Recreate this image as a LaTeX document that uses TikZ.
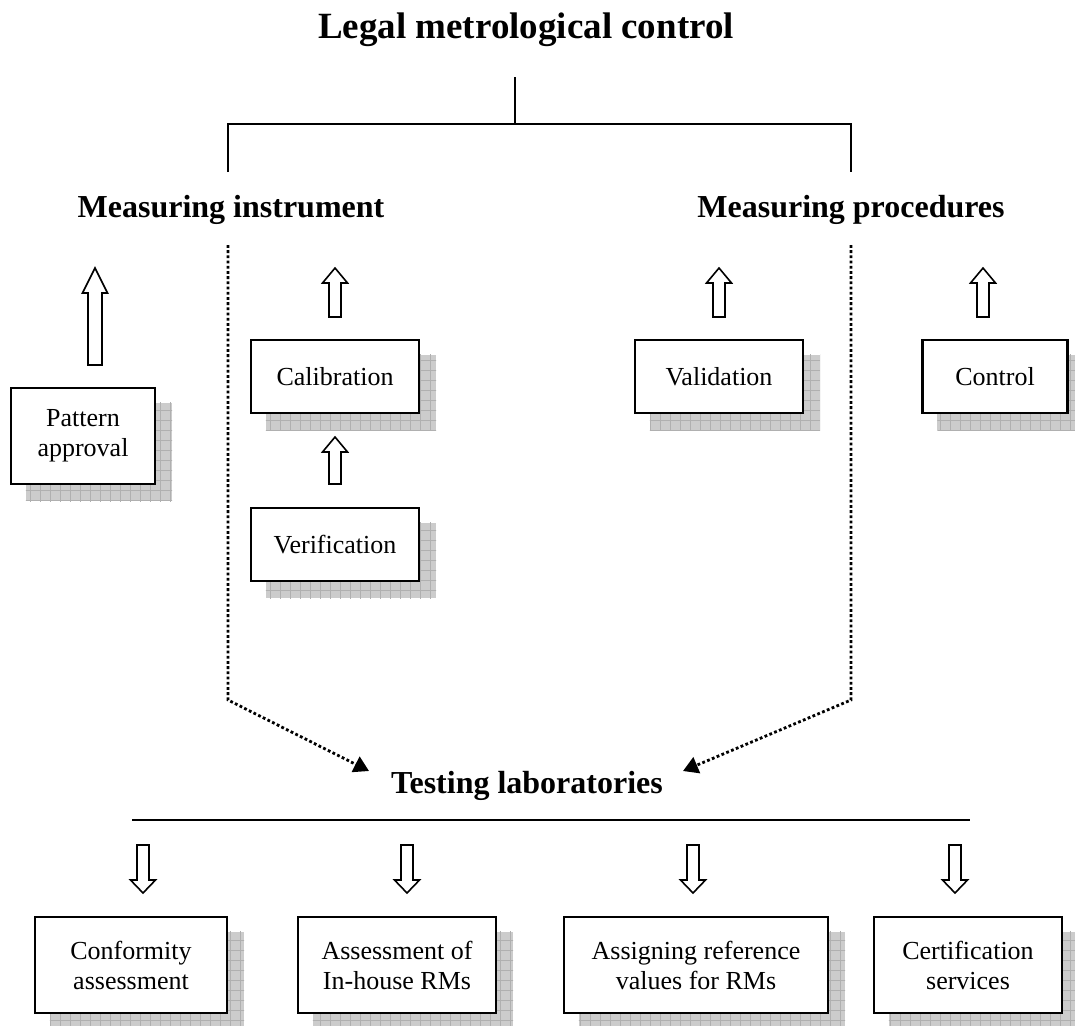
\documentclass[tikz,border=0pt]{standalone}
\usepackage{fontspec}
\setmainfont{Liberation Serif}
\usetikzlibrary{arrows.meta,backgrounds}
\newcommand\shadowof[1]{%
  \begin{scope}[on background layer]
    \fill[gray!40] ([shift={(16,16)}]#1.north west) rectangle ([shift={(16,16)}]#1.south east);
    \begin{scope}
      \clip ([shift={(16,16)}]#1.north west) rectangle ([shift={(16,16)}]#1.south east);
      \draw[gray!62, line width=0.7pt, step=10pt] (-10,-10) grid (1100,1100);
    \end{scope}
  \end{scope}}
% block arrow: x, tip y, head base y, tail y, half shaft, half head
\newcommand\blockarrow[6]{%
  \draw[blockline] (#1-#5,#4) -- (#1-#5,#3) -- (#1-#6,#3) -- (#1,#2) -- (#1+#6,#3) -- (#1+#5,#3) -- (#1+#5,#4) -- cycle;}
\begin{document}
\begin{tikzpicture}[x=1pt,y=-1pt,
  boxstyle/.style={draw=black,line width=2.2pt,fill=white,align=center,inner sep=0pt,
    font=\fontsize{26}{30}\selectfont},
  headstyle/.style={anchor=base,font=\fontsize{32}{36}\selectfont\bfseries,inner sep=0pt},
  blockline/.style={draw=black,line width=1.6pt,fill=white,line join=miter},
  bracket/.style={line width=2.2pt},
  dotline/.style={line width=2.8pt,dash pattern=on 2.8pt off 2.4pt,-{Triangle[length=15pt,width=17pt]}}]
\useasboundingbox (0,0) rectangle (1075,1025);

% titles
\node[headstyle,font=\fontsize{37}{40}\selectfont\bfseries] (title) at (526,38) {Legal metrological control};
\node[headstyle] (mi) at (231,217) {Measuring instrument};
\node[headstyle] (mp) at (851,217) {Measuring procedures};
\node[headstyle] (tl) at (527,793) {Testing laboratories};

% bracket
\coordinate (b0) at (515,77);
\coordinate (bc) at (515,124);
\coordinate (bl) at (228,124);
\coordinate (br) at (851,124);
\coordinate (bld) at (228,172);
\coordinate (brd) at (851,172);
\draw[bracket] (b0) -- (bc);
\draw[bracket] (bld) -- (bl) -- (br) -- (brd);

% boxes
\node[boxstyle,minimum width=144pt,minimum height=96pt] (pa) at (83,436) {Pattern\\approval};
\node[boxstyle,minimum width=168pt,minimum height=73pt] (cal) at (335,376.5) {Calibration};
\node[boxstyle,minimum width=168pt,minimum height=73pt] (ver) at (335,544.5) {Verification};
\node[boxstyle,minimum width=168pt,minimum height=73pt] (val) at (719,376.5) {Validation};
\node[boxstyle,minimum width=145pt,minimum height=73pt] (ctl) at (995,376.5) {Control};

\node[boxstyle,minimum width=192pt,minimum height=96pt] (conf) at (131,965) {Conformity\\assessment};
\node[boxstyle,minimum width=198pt,minimum height=96pt] (ass) at (397,965) {Assessment of\\In-house RMs};
\node[boxstyle,minimum width=264pt,minimum height=96pt] (asg) at (696,965) {Assigning reference\\values for RMs};
\node[boxstyle,minimum width=188pt,minimum height=96pt] (cert) at (968,965) {Certification\\services};

\shadowof{pa}\shadowof{cal}\shadowof{ver}\shadowof{val}\shadowof{ctl}
\shadowof{conf}\shadowof{ass}\shadowof{asg}\shadowof{cert}

% block arrows up
\blockarrow{95}{268}{293}{365}{7}{12.5}
\blockarrow{335}{268}{283}{317}{6}{12.5}
\blockarrow{335}{437}{452}{484}{6}{12.5}
\blockarrow{719}{268}{283}{317}{6}{12.5}
\blockarrow{983}{268}{283}{317}{6}{12.5}
% block arrows down
\blockarrow{143}{893}{880}{845}{6}{12.5}
\blockarrow{407}{893}{880}{845}{6}{12.5}
\blockarrow{693}{893}{880}{845}{6}{12.5}
\blockarrow{955}{893}{880}{845}{6}{12.5}

% dotted connectors
\coordinate (dl1) at (228,245);
\coordinate (dl2) at (228,700);
\coordinate (dl3) at (369,771);
\coordinate (dr1) at (851,245);
\coordinate (dr2) at (851,700);
\coordinate (dr3) at (683,771);
\draw[dotline] (dl1) -- (dl2) -- (dl3);
\draw[dotline] (dr1) -- (dr2) -- (dr3);

% line under testing laboratories
\coordinate (tl1) at (132,820);
\coordinate (tl2) at (970,820);
\draw[line width=2.4pt] (tl1) -- (tl2);
\end{tikzpicture}
\end{document}
